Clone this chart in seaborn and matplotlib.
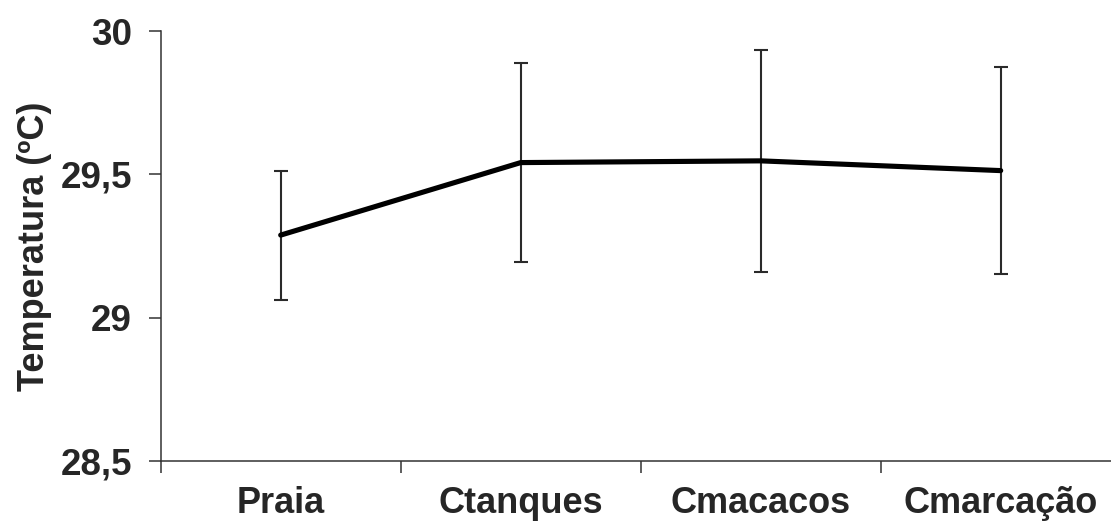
import matplotlib
matplotlib.use("Agg")
import matplotlib.pyplot as plt
import seaborn as sns
import pandas as pd

categories = ["Praia", "Ctanques", "Cmacacos", "Cmarcação"]
means = [29.288, 29.541, 29.547, 29.513]
errors = [0.225, 0.348, 0.388, 0.360]
ytick_values = [28.5, 29.0, 29.5, 30.0]
ytick_labels = ["28,5", "29", "29,5", "30"]
ylabel = "Temperatura (ºC)"

sns.set_style("white")
plt.rcParams["font.family"] = ["Liberation Sans", "DejaVu Sans"]

df = pd.DataFrame({"local": categories, "temp": means})

fig = plt.figure(figsize=(11.11, 5.21), dpi=100)
ax = fig.add_axes([160.7 / 1111, 60 / 521, 960 / 1111, 430 / 521])

ax.errorbar(categories, means, yerr=errors, fmt="none", ecolor="#2a2a2a",
            elinewidth=1.5, capsize=4.7, capthick=1.5, zorder=2)
sns.lineplot(data=df, x="local", y="temp", ax=ax, color="black",
             linewidth=3.7, sort=False, zorder=3)

ax.set_xlim(-0.5, 3.5)
ax.set_ylim(28.5, 30.0)
ax.set_yticks(ytick_values)
ax.set_yticklabels(ytick_labels, fontsize=26.5, fontweight="bold")
ax.set_xticks(range(len(categories)))
ax.set_xticklabels(categories, fontsize=26, fontweight="bold")
ax.set_xticks([i - 0.5 for i in range(len(categories) + 1)], minor=True)

ax.tick_params(axis="y", which="major", direction="out", length=8.6,
               width=1.1, color="#333333", pad=12, left=True)
ax.tick_params(axis="x", which="major", length=0, pad=18)
ax.tick_params(axis="x", which="minor", direction="out", length=8.6,
               width=1.1, color="#333333", bottom=True)

ax.set_xlabel("")
ax.set_ylabel(ylabel, fontsize=26, fontweight="bold", labelpad=6)

for side in ["top", "right"]:
    ax.spines[side].set_visible(False)
for side in ["left", "bottom"]:
    ax.spines[side].set_color("#333333")
    ax.spines[side].set_linewidth(1.1)
ax.grid(False)

fig.savefig("out.png", dpi=100, facecolor="white")
